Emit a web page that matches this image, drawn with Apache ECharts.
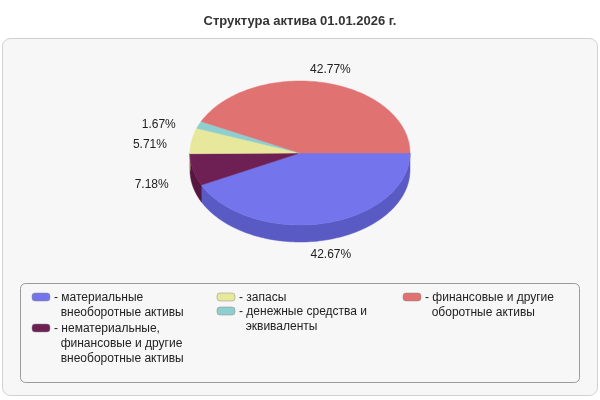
<!DOCTYPE html>
<html><head><meta charset="utf-8">
<script src="https://cdn.jsdelivr.net/npm/echarts@6/dist/echarts.min.js"></script>
<style>body{margin:0}#c{width:600px;height:400px}</style></head>
<body><div id="c"></div>
<script>
var categories = ['материальные\nвнеоборотные активы','нематериальные,\nфинансовые и другие\nвнеоборотные активы','запасы','денежные средства и\nэквиваленты','финансовые и другие\nоборотные активы'];
var values = [42.67, 7.18, 5.71, 1.67, 42.77];
var topColors = ['#7474ec','#6e1f54','#e8e89c','#8ecece','#e07272'];
var sideColors = ['#5a5ac4','#55173f','#bdbd78','#6fa8a8','#b85858'];
var legendPos = [[32,297],[32,328],[217,297],[217,311],[403,297]];

var cx=300, cy=153, rx=110, ry=72, depth=17;
function pt(a,dy){return [cx+rx*Math.cos(a), cy+ry*Math.sin(a)+(dy||0)];}
function render(){
  var total=values.reduce(function(s,v){return s+v;},0);
  var sides=[], tops=[], labels=[];
  var a=0;
  values.forEach(function(v,i){
    var a0=a, a1=a+v/total*2*Math.PI; a=a1;
    var pts=[[cx,cy]], n=Math.max(4,Math.ceil((a1-a0)*40));
    for(var k=0;k<=n;k++) pts.push(pt(a0+(a1-a0)*k/n));
    tops.push({type:'polygon',shape:{points:pts},style:{fill:topColors[i],stroke:topColors[i],lineWidth:0.5}});
    var s0=Math.max(a0,0), s1=Math.min(a1,Math.PI);
    if(s1>s0){
      var sp=[], m=Math.ceil((s1-s0)*40);
      for(var k=0;k<=m;k++) sp.push(pt(s0+(s1-s0)*k/m));
      for(var k=m;k>=0;k--) sp.push(pt(s0+(s1-s0)*k/m,depth));
      sides.push({type:'polygon',shape:{points:sp},style:{fill:sideColors[i],stroke:sideColors[i],lineWidth:0.5}});
    }
    var mid=(a0+a1)/2, c=Math.cos(mid), s=Math.sin(mid);
    var lx=cx+(rx+25)*c, ly=cy+(ry+22)*s+(s>0?depth*0.6:0)+(s<0?8:0);
    labels.push({type:'text',style:{x:lx,y:ly,text:v.toFixed(2)+'%',fill:'#222',font:'12px Arial',align:c<-0.3?'right':(c>0.3?'left':'center'),verticalAlign:'middle'}});
  });
  return {type:'group',children:sides.concat(tops,labels)};
}
var graphics=[
  {type:'rect',shape:{x:2.5,y:38.5,width:595,height:357,r:8},style:{fill:'#f7f7f7',stroke:'#cfcfcf'},z:-10},
  {type:'rect',shape:{x:20.5,y:283.5,width:559,height:99,r:5},style:{fill:'#f7f7f7',stroke:'#9a9a9a'},z:-9}
];
categories.forEach(function(t,i){
  var p=legendPos[i];
  graphics.push({type:'rect',shape:{x:p[0],y:p[1]-4,width:18,height:8,r:3},style:{fill:topColors[i],stroke:'#888',lineWidth:0.5}});
  graphics.push({type:'text',style:{x:p[0]+22,y:p[1]-7,text:'- '+t.replace(/\n/g,'\n  '),fill:'#222',font:'12px Arial',lineHeight:15,verticalAlign:'top'}});
});
var chart=echarts.init(document.getElementById('c'));
chart.setOption({
  title:{text:'Структура актива 01.01.2026 г.',left:'center',top:10,textStyle:{fontSize:13,fontWeight:'bold',color:'#333',fontFamily:'Arial'}},
  graphic:graphics,
  series:[{type:'custom',coordinateSystem:'none',data:[0],renderItem:function(){return render();}}]
});
</script></body></html>
